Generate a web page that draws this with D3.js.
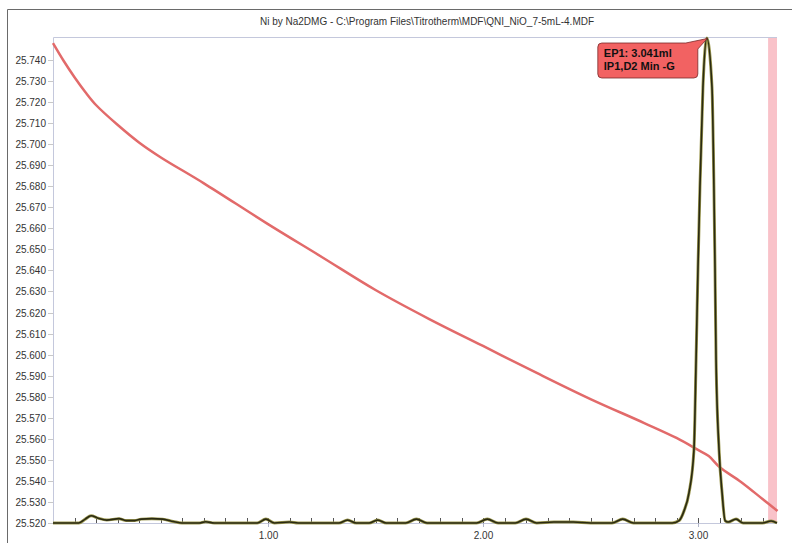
<!DOCTYPE html>
<html>
<head>
    <style>
        body { margin: 0; background: #fff; }
        text { font-family: "Liberation Sans", Arial, sans-serif; }
        .tick-label { font-size: 10px; fill: #333; }
        .title { font-size: 10px; fill: #333; }
        .ep text { font-size: 11px; font-weight: bold; fill: #111; }
    </style>
    <script src="https://d3js.org/d3.v7.min.js"></script>
</head>
<body>
    <svg width="792" height="543"></svg>
    <script>
        // titration data
        var volume = [0, 0.05, 0.1, 0.15, 0.2, 0.3, 0.4, 0.5, 0.7, 1.0, 1.25, 1.5, 1.75, 2.0,
                      2.25, 2.5, 2.75, 2.9, 3.0, 3.05, 3.1, 3.2, 3.3, 3.37];
        var temperature = [25.748, 25.7395, 25.7318, 25.7248, 25.7186, 25.7092, 25.7008, 25.6938,
                           25.6815, 25.662, 25.6464, 25.6307, 25.6169, 25.6041, 25.5913, 25.5789,
                           25.5675, 25.5604, 25.5547, 25.5518, 25.5466, 25.5395, 25.5314, 25.5257];

        // second derivative curve (relative units, 0-100)
        var derivVolume = [0, 0.12, 0.15, 0.177, 0.21, 0.25, 0.307, 0.34, 0.38, 0.41, 0.46, 0.51,
                           0.56, 0.6, 0.68, 0.71, 0.75, 0.95, 0.99, 1.03, 1.1, 1.14, 1.33, 1.37,
                           1.41, 1.47, 1.51, 1.55, 1.64, 1.69, 1.74, 1.97, 2.02, 2.07, 2.15, 2.2,
                           2.25, 2.33, 2.42, 2.5, 2.6, 2.65, 2.7, 2.88, 2.912, 2.935, 2.958, 2.981,
                           2.991, 3.0, 3.009, 3.023, 3.041, 3.065, 3.074, 3.079, 3.084, 3.098,
                           3.112, 3.126, 3.14, 3.177, 3.21, 3.3, 3.34, 3.367];
        var derivValue = [0, 0, 0.8, 1.5, 1.0, 0.6, 0.9, 0.5, 0.5, 0.8, 0.9, 0.8,
                          0.3, 0, 0, 0.25, 0, 0, 0.8, 0, 0.2, 0, 0, 0.6,
                          0, 0, 0.6, 0, 0, 0.8, 0, 0, 0.8, 0, 0, 0.8,
                          0, 0.2, 0.2, 0, 0, 0.8, 0, 0, 0.5, 2.5, 6.2, 15,
                          33.6, 52.8, 69.3, 89.9, 100, 89.9, 69.3, 52.8, 33.6, 15,
                          6.2, 0.5, 0.2, 0.8, 0, 0, 0.4, 0];

        var yTicks = ["25.520", "25.530", "25.540", "25.550", "25.560", "25.570", "25.580", "25.590",
                      "25.600", "25.610", "25.620", "25.630", "25.640", "25.650", "25.660", "25.670",
                      "25.680", "25.690", "25.700", "25.710", "25.720", "25.730", "25.740"];
        var xTicks = ["1.00", "2.00", "3.00"];

        var endPoint = 3.041;
        var endLabel = ["EP1: 3.041ml", "IP1,D2 Min -G"];
        var regionStart = 3.326;

        var svg = d3.select("svg");
        var plotL = 53, plotR = 777, plotT = 37, plotB = 523;

        var x = d3.scaleLinear().domain([0, 3.3674]).range([plotL, plotR]);
        var y = d3.scaleLinear().domain([25.52, 25.7509]).range([plotB, plotT]);
        var y2 = d3.scaleLinear().domain([0, 100]).range([plotB, plotT + 1]);

        // outer frame
        svg.append("path")
           .attr("d", "M7.5,543 L7.5,9.5 L792,9.5")
           .attr("fill", "none")
           .attr("stroke", "#6a6a6a");

        svg.append("text")
           .attr("class", "title")
           .attr("x", 427)
           .attr("y", 25)
           .attr("text-anchor", "middle")
           .text("Ni by Na2DMG - C:\\Program Files\\Titrotherm\\MDF\\QNI_NiO_7-5mL-4.MDF");

        // pink region at the end
        svg.append("rect")
           .attr("x", x(regionStart))
           .attr("y", plotT)
           .attr("width", plotR - x(regionStart))
           .attr("height", plotB - plotT)
           .attr("fill", "#f9c2c9");

        // plot border lines
        svg.append("path")
           .attr("d", "M" + (plotL + 0.5) + "," + plotB + " L" + (plotL + 0.5) + "," + (plotT + 0.5) + " L" + plotR + "," + (plotT + 0.5))
           .attr("fill", "none")
           .attr("stroke", "#c4c8dc");
        svg.append("line")
           .attr("x1", plotL).attr("x2", plotR)
           .attr("y1", plotB + 0.5).attr("y2", plotB + 0.5)
           .attr("stroke", "#c4c8dc");

        // y axis
        var yg = svg.append("g");
        yTicks.forEach(function(t) {
            var yy = Math.round(y(+t)) + 0.5;
            yg.append("line").attr("x1", plotL - 5).attr("x2", plotL).attr("y1", yy).attr("y2", yy)
              .attr("stroke", "#c8c8c8");
            yg.append("text").attr("class", "tick-label")
              .attr("x", plotL - 7).attr("y", yy).attr("dy", "0.35em")
              .attr("text-anchor", "end").text(t);
        });

        // x axis: minor ticks every 0.1 pointing up, major ticks down
        var xg = svg.append("g");
        d3.range(1, 34).forEach(function(i) {
            var xx = Math.round(x(i / 10)) + 0.5;
            xg.append("line").attr("x1", xx).attr("x2", xx).attr("y1", plotB - 5).attr("y2", plotB)
              .attr("stroke", "#555");
        });
        xTicks.forEach(function(t) {
            var xx = Math.round(x(+t)) + 0.5;
            xg.append("line").attr("x1", xx).attr("x2", xx).attr("y1", plotB).attr("y2", plotB + 4)
              .attr("stroke", "#b0b4c8");
            xg.append("text").attr("class", "tick-label")
              .attr("x", xx).attr("y", plotB + 16)
              .attr("text-anchor", "middle").text(t);
        });

        // temperature curve
        var tempLine = d3.line()
            .x(function(d, i) { return x(volume[i]); })
            .y(function(d) { return y(d); })
            .curve(d3.curveCatmullRom.alpha(0.5));

        svg.append("path")
           .datum(temperature)
           .attr("d", tempLine)
           .attr("fill", "none")
           .attr("stroke", "#e26a6a")
           .attr("stroke-width", 2.5);

        // derivative curve
        var derivLine = d3.line()
            .x(function(d, i) { return x(derivVolume[i]); })
            .y(function(d) { return y2(d); })
            .curve(d3.curveMonotoneX);

        svg.append("path")
           .datum(derivValue)
           .attr("d", derivLine)
           .attr("fill", "none")
           .attr("stroke", "#9c9850")
           .attr("stroke-width", 3);
        svg.append("path")
           .datum(derivValue)
           .attr("d", derivLine)
           .attr("fill", "none")
           .attr("stroke", "#2a2a12")
           .attr("stroke-width", 1.6);

        // end point label
        var px = x(endPoint), py = y2(100);
        var bx = px - 109, by = py + 5, bw = 100, bh = 35;
        var ep = svg.append("g").attr("class", "ep");
        ep.append("path")
          .attr("d", "M" + (bx + 4) + "," + by +
                     " L" + (bx + bw - 12) + "," + by +
                     " L" + (px + 0.5) + "," + (py + 0.5) +
                     " L" + (bx + bw) + "," + (by + 6) +
                     " L" + (bx + bw) + "," + (by + bh - 4) +
                     " Q" + (bx + bw) + "," + (by + bh) + " " + (bx + bw - 4) + "," + (by + bh) +
                     " L" + (bx + 4) + "," + (by + bh) +
                     " Q" + bx + "," + (by + bh) + " " + bx + "," + (by + bh - 4) +
                     " L" + bx + "," + (by + 4) +
                     " Q" + bx + "," + by + " " + (bx + 4) + "," + by + " Z")
          .attr("fill", "#f26262")
          .attr("stroke", "#7a2a2a")
          .attr("stroke-width", 0.8);
        endLabel.forEach(function(s, i) {
            ep.append("text").attr("x", bx + 6).attr("y", by + 14 + i * 13).text(s);
        });
    </script>
</body>
</html>
